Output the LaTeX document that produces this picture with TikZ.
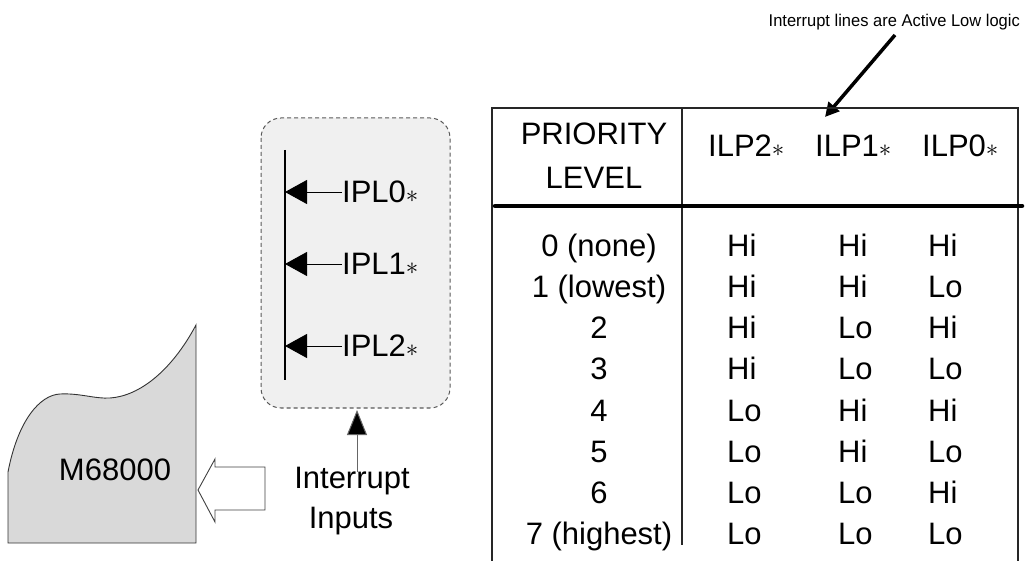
\documentclass[tikz,border=0pt]{standalone}
\usepackage{fontspec}
\setmainfont{Liberation Sans}
\usetikzlibrary{arrows.meta}
\newcommand{\myast}{\raisebox{0.5pt}{\fontsize{32}{32}\selectfont$\ast$}}
\begin{document}
\begin{tikzpicture}[x=1pt,y=-1pt,
  big/.style={font=\fontsize{31}{31}\selectfont, inner sep=0pt},
  small/.style={font=\fontsize{17}{17}\selectfont, inner sep=0pt},
  frame/.style={draw=black!85, line width=1.1pt},
  sig/.style={draw=black, line width=0.9pt, -{Triangle[length=22pt,width=24pt]}},
  upar/.style={draw=black!60, line width=1pt, -{Triangle[length=25pt,width=20pt,fill=black]}},
  notear/.style={draw=black, line width=3.5pt, -{Triangle[length=14pt,width=14pt]}}]
\useasboundingbox (0,0) rectangle (1026,561);

% ---- annotation
\node[small, anchor=base east] (note) at (1020,26.5) {\scalebox{0.97}[1]{Interrupt lines are Active Low logic}};
\coordinate (notetail) at (895,35);
\coordinate (notetip) at (825,117);
\draw[notear] (notetail) -- (notetip);

% ---- table frame
\coordinate (tl) at (492,108);
\coordinate (tr) at (1018,108);
\coordinate (bl) at (492,561);
\coordinate (br) at (1018,561);
\draw[frame] (bl) -- (tl) -- (tr) -- (br);
\coordinate (dtop) at (682,108);
\coordinate (dbot) at (682,545);
\draw[frame] (dtop) -- (dbot);
\coordinate (hl) at (495,206);
\coordinate (hr) at (1022,206);
\draw[line width=4.5pt, line cap=round] (hl) -- (hr);

% ---- header
\node[big, anchor=base] (pr) at (594,145) {PRIORITY};
\node[big, anchor=base] (lv) at (594,189) {LEVEL};
\node[big, anchor=base west] (h2) at (708,157) {ILP2\myast};
\node[big, anchor=base west] (h1) at (815,157) {ILP1\myast};
\node[big, anchor=base west] (h0) at (922,157) {ILP0\myast};

% ---- rows
\foreach \lvl/\a/\b/\c [count=\i from 0] in {0 (none)/Hi/Hi/Hi, 1 (lowest)/Hi/Hi/Lo, 2/Hi/Lo/Hi, 3/Hi/Lo/Lo, 4/Lo/Hi/Hi, 5/Lo/Hi/Lo, 6/Lo/Lo/Hi, 7 (highest)/Lo/Lo/Lo}{
  \pgfmathsetmacro{\yb}{256.3+41.2*\i}
  \node[big, anchor=base] (lvl\i) at (599,\yb) {\lvl};
  \node[big, anchor=base west] (ca\i) at (727,\yb) {\a};
  \node[big, anchor=base west] (cb\i) at (838,\yb) {\b};
  \node[big, anchor=base west] (cc\i) at (928,\yb) {\c};
}

% ---- dashed input box
\draw[draw=black!65, fill=black!6, line width=1pt, dash pattern=on 4pt off 3pt, rounded corners=20pt]
  (261,118) rectangle (450,408);
\coordinate (bus1) at (285,150);
\coordinate (bus2) at (285,380);
\draw[line width=1.1pt] (bus1) -- (bus2);
\node[big, anchor=west] (ipl0) at (342,192) {IPL0\myast};
\node[big, anchor=west] (ipl1) at (342,264) {IPL1\myast};
\node[big, anchor=west] (ipl2) at (342,346) {IPL2\myast};
\coordinate (t0) at (285,192);
\coordinate (t1) at (285,264);
\coordinate (t2) at (285,346);
\draw[sig] (ipl0.west) -- (t0);
\draw[sig] (ipl1.west) -- (t1);
\draw[sig] (ipl2.west) -- (t2);

% ---- interrupt inputs label
\node[big, anchor=base] (intA) at (352,488) {Interrupt};
\node[big, anchor=base] (intB) at (351,528) {Inputs};
\coordinate (upfrom) at (357,472);
\coordinate (upto) at (357,410);
\draw[upar] (upfrom) -- (upto);

% ---- hollow arrow
\draw[draw=black!75, fill=white, line width=0.9pt]
  (198,490) -- (215,459) -- (215,467) -- (265,467) -- (265,510) -- (215,510) -- (215,522) -- cycle;

% ---- M68000 shape
\draw[draw=black!80, fill=black!15, line width=0.9pt]
  (8,543) -- (8,472) .. controls (18,420) and (40,395) .. (60,394)
  .. controls (80,393) and (95,399) .. (110,398)
  .. controls (140,396) and (172,370) .. (196,325) -- (196,543) -- cycle;
\node[big] (cpu) at (115,470) {M68000};
\end{tikzpicture}
\end{document}
